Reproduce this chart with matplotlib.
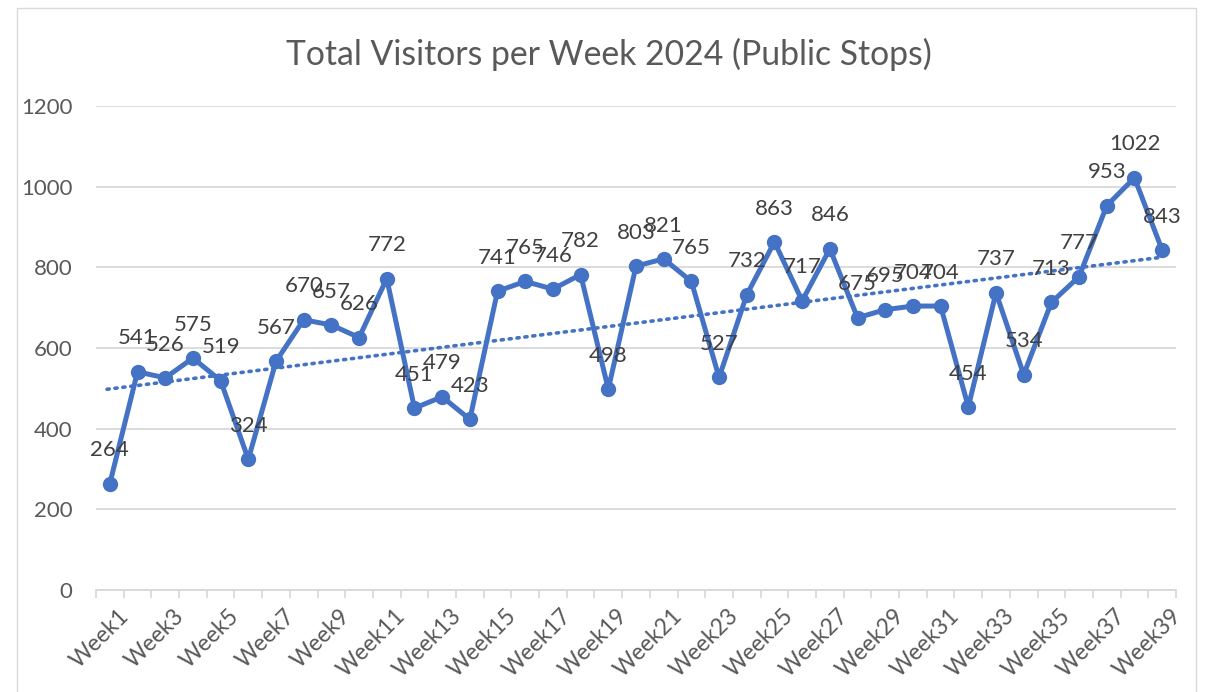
import matplotlib
matplotlib.use("Agg")
import matplotlib.pyplot as plt
import matplotlib.transforms as mtransforms
import numpy as np
from matplotlib.patches import Rectangle

weeks = [f"Week{i}" for i in range(1, 40)]
visitors = [264, 541, 526, 575, 519, 324, 567, 670, 657, 626, 772, 451, 479, 423,
            741, 765, 746, 782, 498, 803, 821, 765, 527, 732, 863, 717, 846, 675,
            695, 704, 704, 454, 737, 534, 713, 777, 953, 1022, 843]
title = "Total Visitors per Week 2024 (Public Stops)"
yticks = [0, 200, 400, 600, 800, 1000, 1200]

plt.rcParams['font.family'] = ['Lato', 'DejaVu Sans']
blue = "#4472C4"
gray_text = "#595959"
grid = "#D9D9D9"

fig = plt.figure(figsize=(12.05, 6.92), dpi=100)
fig.patches.append(Rectangle((17/1205, -0.01), (1196-17)/1205, (692-8)/692 + 0.01,
                             transform=fig.transFigure, fill=False,
                             edgecolor=grid, linewidth=1))
ax = fig.add_axes([96/1205, (692-590)/692, (1176-96)/1205, (590-106)/692])

x = np.arange(len(visitors))
ax.plot(x, visitors, color=blue, linewidth=3.6, marker="o", markersize=10,
        solid_joinstyle="round", zorder=3)

# linear trendline
coef = np.polyfit(x, visitors, 1)
xt = np.array([x[0] - 0.1, x[-1]])
ax.plot(xt, np.polyval(coef, xt), color=blue, linestyle=(0, (0.6, 1.6)),
        linewidth=2.6, dash_capstyle="round", zorder=2)

for xi, v in zip(x, visitors):
    ax.annotate(str(v), (xi, v), xytext=(0, 24), textcoords="offset points",
                ha="center", va="center", fontsize=16, color="#404040", zorder=4)

ax.set_xlim(-0.5, len(visitors) - 0.5)
ax.set_ylim(0, 1200)
ax.set_yticks(yticks)
ax.set_yticklabels([str(t) for t in yticks], fontsize=16, color=gray_text)
ax.tick_params(axis="y", length=0, pad=17)
ax.yaxis.grid(True, color=grid, linewidth=1.3)
ax.set_axisbelow(True)

ax.set_xticks(x[::2])
ax.set_xticklabels(weeks[::2], rotation=45, ha="right", rotation_mode="anchor",
                   fontsize=16.5, color=gray_text)
ax.tick_params(axis="x", which="major", length=0, pad=11)
shift = mtransforms.ScaledTranslation(8/100, 0, fig.dpi_scale_trans)
for lab in ax.get_xticklabels():
    lab.set_transform(lab.get_transform() + shift)
ax.set_xticks(np.arange(-0.5, len(visitors), 1), minor=True)
ax.tick_params(axis="x", which="minor", length=6, color=grid, width=1.3)

for s in ["top", "right", "left"]:
    ax.spines[s].set_visible(False)
ax.spines["bottom"].set_color(grid)
ax.spines["bottom"].set_linewidth(1.3)

fig.text(609/1205, 1 - 54/692, title, ha="center", va="center",
         fontsize=24.3, color=gray_text)

fig.savefig("out.png", dpi=100)
